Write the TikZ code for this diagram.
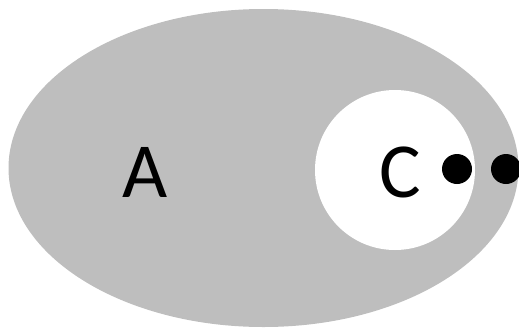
\documentclass[tikz,border=0pt]{standalone}
\usepackage{fontspec}
\setmainfont{Carlito}
\usetikzlibrary{shapes.geometric}
\definecolor{setgray}{RGB}{190,190,190}
\tikzset{
  setA/.style={ellipse, fill=setgray, draw=none, inner sep=0pt, minimum width=510pt, minimum height=318pt},
  setC/.style={circle, fill=white, draw=none, inner sep=0pt, minimum size=160pt},
  lbl/.style={anchor=base, inner sep=0pt, font=\fontsize{78}{78}\selectfont},
  elem/.style={circle, fill=black, draw=none, inner sep=0pt, minimum size=30pt}
}
\begin{document}
\begin{tikzpicture}[x=1pt,y=-1pt]
\useasboundingbox (0,0) rectangle (519,327);
\node[setA] (A) at (263.5,168) {};
\node[setC] (C) at (395,170) {};
\node[lbl] (la) at (145,197) {A};
\node[lbl] (lc) at (400,197) {C};
\node[elem] (d1) at (457,169) {};
\node[elem] (d2) at (506,169) {};
\end{tikzpicture}
\end{document}
